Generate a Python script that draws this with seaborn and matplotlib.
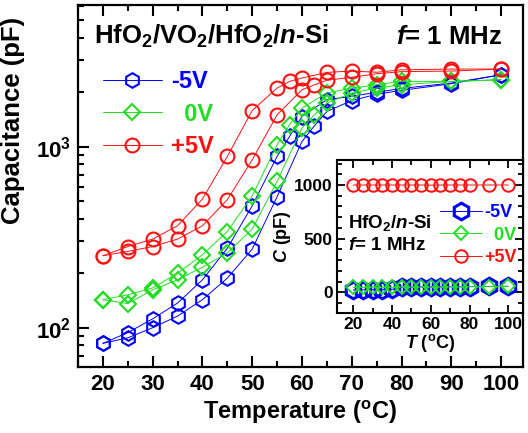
import numpy as np
import pandas as pd
import matplotlib
matplotlib.use("Agg")
import matplotlib.pyplot as plt
import seaborn as sns
from matplotlib.lines import Line2D
from matplotlib.ticker import FixedLocator, FixedFormatter, LogLocator, MultipleLocator, NullFormatter

# ---------------- data (main panel) ----------------
T_heat = [20, 25, 30, 35, 40, 45, 50, 55, 60, 62.5, 65, 70, 75, 80, 90, 100]
T_cool = [20, 25, 30, 35, 40, 45, 50, 55, 57.5, 60, 65, 70, 75, 80, 90, 100]

neg5_heat = [82, 88, 100, 116, 143, 188, 272, 530, 1070, 1306, 1567, 1800, 1950, 2050, 2230, 2500]
neg5_cool = [82, 94, 112, 137, 184, 275, 472, 884, 1140, 1469, 1820, 1900, 2000, 2100, 2250, 2500]

zero_heat = [143, 136, 162, 184, 216, 259, 351, 643, 1268, 1502, 1743, 1982, 2110, 2201, 2296, 2345]
zero_cool = [143, 152, 166, 200, 253, 340, 536, 1026, 1323, 1636, 1982, 2110, 2201, 2296, 2296, 2345]

pos5_heat = [250, 264, 281, 309, 366, 510, 847, 1502, 2066, 2200, 2330, 2420, 2530, 2600, 2620, 2687]
pos5_cool = [250, 281, 309, 366, 514, 884, 1586, 2110, 2296, 2398, 2575, 2620, 2580, 2660, 2687, 2687]

# ---------------- data (inset) ----------------
T_in = [20, 25, 30, 35, 40, 45, 50, 55, 60, 65, 70, 75, 80, 90, 100]
in_neg5 = [22, 23, 24, 25, 27, 48, 49, 50, 50, 51, 52, 52, 53, 55, 56]
in_zero = [45, 45, 46, 46, 47, 48, 49, 49, 50, 50, 51, 51, 52, 53, 54]
in_pos5 = [1000, 1000, 1000, 1000, 1000, 1000, 1000, 1000, 998, 1000, 1000, 1000, 1000, 1000, 1000]

labels = ["-5V", "  0V", "+5V"]
colors = ["#0000ff", "#22dd22", "#ff1010"]
markers = ["h", "D", "o"]

# ---------------- style ----------------
sns.set_style("ticks")
plt.rcParams["font.family"] = ["Liberation Sans", "DejaVu Sans"]
plt.rcParams["font.weight"] = "bold"
plt.rcParams["axes.labelweight"] = "bold"
plt.rcParams["text.color"] = "black"
plt.rcParams["axes.labelcolor"] = "black"
plt.rcParams["xtick.color"] = "black"
plt.rcParams["ytick.color"] = "black"
plt.rcParams["mathtext.fontset"] = "custom"
plt.rcParams["mathtext.rm"] = "Liberation Sans:bold"
plt.rcParams["mathtext.bf"] = "Liberation Sans:bold"
plt.rcParams["mathtext.it"] = "Liberation Sans:bold:italic"
plt.rcParams["mathtext.default"] = "rm"

fig = plt.figure(figsize=(5.28, 4.33), dpi=100)
ax = fig.add_axes([78 / 528, 1 - 367 / 433, 445 / 528, 362 / 433])

main_ms = {"h": 10.5, "D": 8.6, "o": 10}
series = [(neg5_heat, neg5_cool), (zero_heat, zero_cool), (pos5_heat, pos5_cool)]
for (heat, cool), c, m in zip(series, colors, markers):
    for T, C in ((T_heat, heat), (T_cool, cool)):
        sns.lineplot(x=T, y=C, ax=ax, color=c, linewidth=0.7, sort=False, estimator=None,
                     marker=m, markersize=main_ms[m], markerfacecolor="none",
                     markeredgecolor=c, markeredgewidth=1.5)

ax.set_yscale("log")
ax.set_xlim(15, 104.4)
ax.set_ylim(60.7, 6070)
ax.xaxis.set_major_locator(MultipleLocator(10))
ax.xaxis.set_minor_locator(MultipleLocator(5))
ax.yaxis.set_major_locator(FixedLocator([100, 1000]))
ax.yaxis.set_major_formatter(FixedFormatter([r"$10^{2}$", r"$10^{3}$"]))
ax.yaxis.set_minor_locator(LogLocator(base=10, subs=np.arange(2, 10)))
ax.yaxis.set_minor_formatter(NullFormatter())
ax.tick_params(which="both", direction="in", top=True, right=False, width=1.5, color="black")
ax.tick_params(which="major", length=8, labelsize=16, pad=5, labelcolor="black")
ax.tick_params(which="minor", length=4.5)
for sp in ax.spines.values():
    sp.set_linewidth(1.6)
    sp.set_color("black")
ax.set_xlabel(r"Temperature ($^{o}$C)", fontsize=17, fontweight="bold", labelpad=3, color="black")
ax.set_ylabel("Capacitance (pF)", fontsize=18.5, fontweight="bold", color="black")
ax.yaxis.set_label_coords(-0.12, 0.68)

ax.text(0.036, 0.912, r"HfO$_2$/VO$_2$/HfO$_2$/$\mathit{n}$-Si", transform=ax.transAxes,
        fontsize=18.5, fontweight="bold", ha="left", va="center", color="black")
ax.text(0.953, 0.912, r"$\mathit{f}$= 1 MHz", transform=ax.transAxes,
        fontsize=18.5, fontweight="bold", ha="right", va="center", color="black")

handles = [Line2D([], [], color=c, lw=0.7, marker=m, ms=main_ms[m], mfc="none", mec=c, mew=1.5)
           for c, m in zip(colors, markers)]
leg = ax.legend(handles, labels, loc="upper left", bbox_to_anchor=(0.056, 0.82), frameon=False,
                prop={"size": 17, "weight": "bold"}, handlelength=2.5, handletextpad=0.4,
                labelspacing=0.4, borderpad=0, borderaxespad=0)
for t, c in zip(leg.get_texts(), colors):
    t.set_color(c)

# ---------------- inset ----------------
axi = fig.add_axes([337 / 528, 1 - 313 / 433, 186 / 528, 153 / 433])
in_ms = {"h": 12, "D": 7, "o": 9}
for C, c, m in zip([in_neg5, in_zero, in_pos5], colors, markers):
    sns.lineplot(x=T_in, y=C, ax=axi, color=c, linewidth=0.7, sort=False, estimator=None,
                 marker=m, markersize=in_ms[m], markerfacecolor="none",
                 markeredgecolor=c, markeredgewidth=2.2 if m == "h" else 1.4)
axi.set_xlim(11.6, 107.6)
axi.set_ylim(-193, 1233)
axi.xaxis.set_major_locator(MultipleLocator(20))
axi.xaxis.set_minor_locator(MultipleLocator(10))
axi.yaxis.set_major_locator(MultipleLocator(500))
axi.yaxis.set_minor_locator(MultipleLocator(100))
axi.tick_params(which="both", direction="in", top=True, right=True, width=1.3, color="black")
axi.tick_params(which="major", length=6, labelsize=12.5, pad=3, labelcolor="black")
axi.tick_params(which="minor", length=3.5)
for sp in axi.spines.values():
    sp.set_linewidth(1.5)
    sp.set_color("black")
axi.set_xlabel(r"$\mathit{T}$ ($^{o}$C)", fontsize=13, fontweight="bold", labelpad=0, color="black")
axi.set_ylabel(r"$\mathit{C}$ (pF)", fontsize=13, fontweight="bold", labelpad=1, color="black")
axi.text(0.06, 0.59, r"HfO$_2$/$\mathit{n}$-Si", transform=axi.transAxes,
         fontsize=13.5, fontweight="bold", ha="left", va="center", color="black")
axi.text(0.06, 0.44, r"$\mathit{f}$= 1 MHz", transform=axi.transAxes,
         fontsize=13.5, fontweight="bold", ha="left", va="center", color="black")
ihandles = [Line2D([], [], color=c, lw=0.7, marker=m, ms=in_ms[m], mfc="none", mec=c,
                   mew=2.2 if m == "h" else 1.4) for c, m in zip(colors, markers)]
ileg = axi.legend(ihandles, labels, loc="upper left", bbox_to_anchor=(0.554, 0.71), frameon=False,
                  prop={"size": 13, "weight": "bold"}, handlelength=2.3, handletextpad=0.15,
                  labelspacing=0.3, borderpad=0, borderaxespad=0)
for t, c in zip(ileg.get_texts(), colors):
    t.set_color(c)

fig.savefig("out.png", dpi=100)
